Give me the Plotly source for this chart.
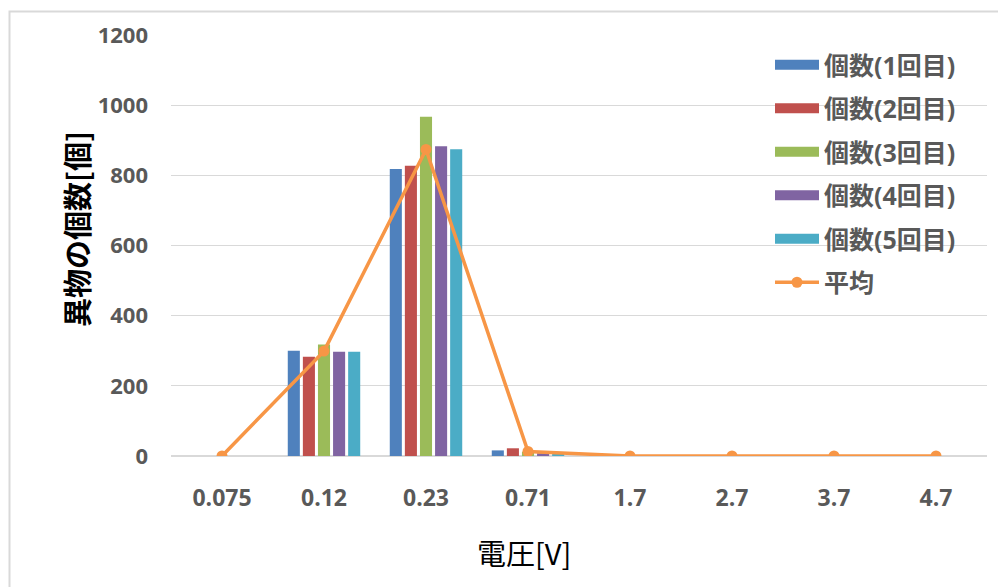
import plotly.graph_objects as go

# Voltage categories (x-axis)
voltages = ["0.075", "0.12", "0.23", "0.71", "1.7", "2.7", "3.7", "4.7"]

# Foreign-particle counts per run
run1 = [0, 300, 818, 16, 0, 0, 0, 0]
run2 = [0, 283, 827, 22, 0, 0, 0, 0]
run3 = [0, 318, 967, 12, 0, 0, 0, 0]
run4 = [0, 297, 883, 8, 0, 0, 0, 0]
run5 = [0, 297, 874, 6, 0, 0, 0, 0]

run_names = ["個数(1回目)", "個数(2回目)", "個数(3回目)", "個数(4回目)", "個数(5回目)"]
run_colors = ["#4F81BD", "#C0504D", "#9BBB59", "#8064A2", "#4BACC6"]
avg_name = "平均"
avg_color = "#F79646"

runs = [run1, run2, run3, run4, run5]
average = [sum(vals) / len(vals) for vals in zip(*runs)]

y_ticks = [0, 200, 400, 600, 800, 1000, 1200]

NUM_FONT = "'Open Sans', Lato, sans-serif"
CJK_FONT = "'Noto Sans CJK JP', sans-serif"
GREY = "#595959"

fig = go.Figure()

for i, (name, vals, col) in enumerate(zip(run_names, runs, run_colors)):
    fig.add_trace(go.Bar(
        x=voltages, y=vals, name=name,
        marker=dict(color=col, line=dict(width=0)),
        showlegend=False,
    ))
    # wide swatch legend entry
    fig.add_trace(go.Scatter(
        x=[None], y=[None], mode="lines", name=name,
        line=dict(color=col, width=14),
        legendgroup=f"g{i}", showlegend=True, hoverinfo="skip",
    ))

fig.add_trace(go.Scatter(
    x=voltages, y=average, name=avg_name, mode="lines+markers",
    line=dict(color=avg_color, width=3.5),
    marker=dict(color=avg_color, size=11),
    legendgroup="g5",
))

W, H = 998, 587
L, R, T, B = 171, 11, 35, 131
pw, ph = W - L - R, H - T - B

fig.update_layout(
    width=W, height=H,
    margin=dict(l=L, r=R, t=T, b=B),
    paper_bgcolor="white", plot_bgcolor="white",
    barmode="group", bargap=0.26, bargroupgap=0.2,
    legend=dict(
        x=(770 - L) / pw, y=1 + (T - 42) / ph, xanchor="left", yanchor="top",
        bgcolor="rgba(0,0,0,0)", itemwidth=44, tracegroupgap=8,
        font=dict(family=f"{NUM_FONT}, {CJK_FONT}", size=25, color=GREY, weight="bold"),
    ),
    xaxis=dict(
        type="category", categoryorder="array", categoryarray=voltages,
        showgrid=False, showline=True, linecolor="#D9D9D9", linewidth=1,
        tickfont=dict(family=NUM_FONT, size=23, color=GREY, weight="bold"),
        ticks="", ticklabelstandoff=21,
    ),
    yaxis=dict(
        range=[0, 1200], tickvals=y_ticks, ticktext=[str(v) for v in y_ticks],
        showgrid=True, gridcolor="#D9D9D9", gridwidth=1,
        zeroline=True, zerolinecolor="#D9D9D9",
        tickfont=dict(family=NUM_FONT, size=22, color=GREY, weight="bold"),
        ticks="", ticklabelstandoff=22,
    ),
    annotations=[
        dict(text="電圧[V]", xref="paper", yref="paper",
             x=(524 - L) / pw, y=-(552 - T - ph) / ph, xanchor="center", yanchor="middle",
             showarrow=False, font=dict(family=CJK_FONT, size=29, color="black")),
        dict(text="異物の個数[個]", xref="paper", yref="paper",
             x=(76 - L) / pw, y=1 - (229 - T) / ph, xanchor="center", yanchor="middle",
             textangle=-90, showarrow=False,
             font=dict(family=CJK_FONT, size=29, color="black", weight="bold")),
    ],
    shapes=[dict(
        type="rect", xref="paper", yref="paper",
        x0=(9.5 - L) / pw, x1=(W + 5 - L) / pw,
        y0=-(H + 5 - T - ph) / ph, y1=1 + (T - 11.5) / ph,
        line=dict(color="#D9D9D9", width=2), fillcolor="rgba(0,0,0,0)", layer="below",
    )],
)

fig.write_html("out.html")
